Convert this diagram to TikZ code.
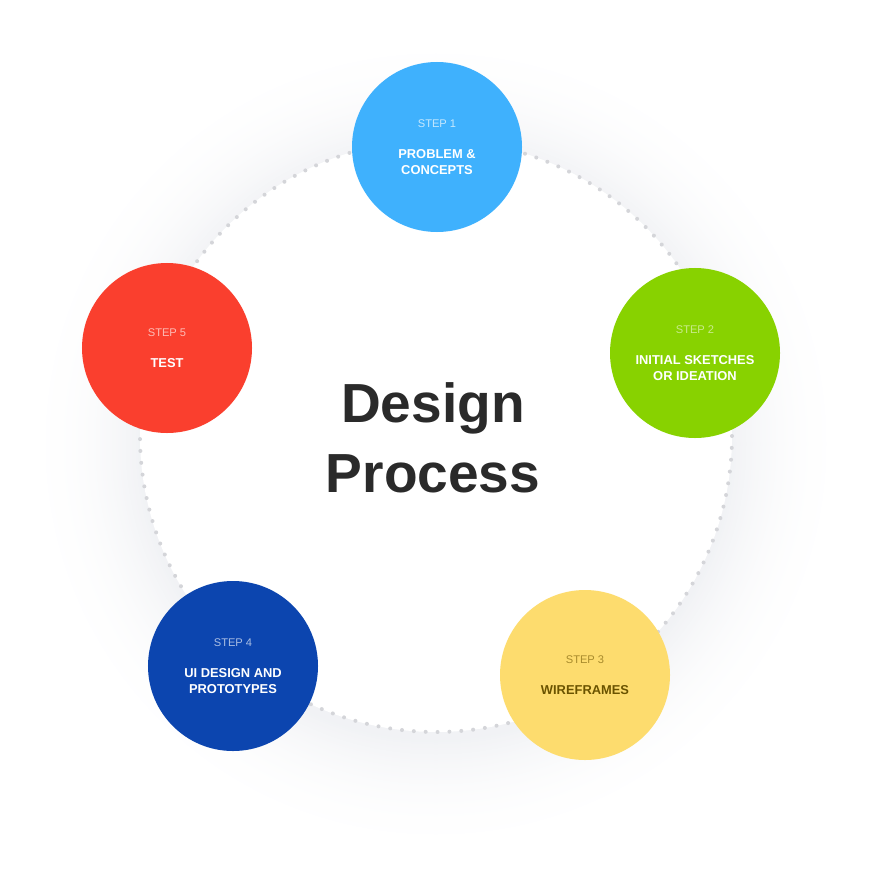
\documentclass[tikz,border=0pt]{standalone}
\usepackage{fontspec}
\setmainfont{Liberation Sans}
\usepackage{xcolor}

\definecolor{stepblue}{HTML}{3FB1FD}
\definecolor{stepgreen}{HTML}{88D200}
\definecolor{stepyellow}{HTML}{FDDC6E}
\definecolor{stepnavy}{HTML}{0C45AF}
\definecolor{stepred}{HTML}{FA3F2E}
\definecolor{halogray}{HTML}{F1F2F5}
\definecolor{dotgray}{HTML}{D4D5D9}
\definecolor{titlegray}{HTML}{2A2A2A}
\definecolor{wiretext}{HTML}{6A5300}
\definecolor{wirestep}{HTML}{A88B2C}

\newcommand{\steplab}[2]{{\mdseries\fontsize{9.5}{10}\selectfont\color{#1}#2}}

\begin{document}
\begin{tikzpicture}[x=0.03cm, y=-0.03cm,
	stepdisc/.style={circle, fill=#1, minimum size=5.1cm, inner sep=0pt, align=center,
		text=white, font=\bfseries\fontsize{11}{13.6}\selectfont}]
	\useasboundingbox (0,0) rectangle (871,871);
	\fill [white] (0,0) rectangle (871,871);
	\foreach \k in {0,...,59}
	{
		\pgfmathsetmacro\rr{414-\k*2}
		\pgfmathsetmacro\pc{100*(\k/59)^2.2}
		\fill [halogray!\pc!white] (436,444) circle (\rr);
	}
	\fill [white] (436,436) circle (296);
	\foreach \a in {0,2.3,...,357.8}
		\fill [dotgray] ({436+296*cos(\a)},{436+296*sin(\a)}) circle (2);
	\node (title) at (433,438) [align=center, text=titlegray, font=\bfseries\fontsize{47}{59.5}\selectfont] {Design\\Process};
	\node (s1) at (437,147) [stepdisc=stepblue] {\steplab{white!70!stepblue}{STEP 1}\\[12.8pt]PROBLEM \&\\CONCEPTS};
	\node (s2) at (695,353) [stepdisc=stepgreen] {\steplab{white!55!stepgreen}{STEP 2}\\[12.8pt]INITIAL SKETCHES\\OR IDEATION};
	\node (s3) at (585,675) [stepdisc=stepyellow, text=wiretext] {\steplab{wirestep}{STEP 3}\\[12.8pt]WIREFRAMES};
	\node (s4) at (233,666) [stepdisc=stepnavy] {\steplab{white!65!stepnavy}{STEP 4}\\[12.8pt]UI DESIGN AND\\PROTOTYPES};
	\node (s5) at (167,348) [stepdisc=stepred] {\steplab{white!65!stepred}{STEP 5}\\[12.8pt]TEST};
\end{tikzpicture}
\end{document}
